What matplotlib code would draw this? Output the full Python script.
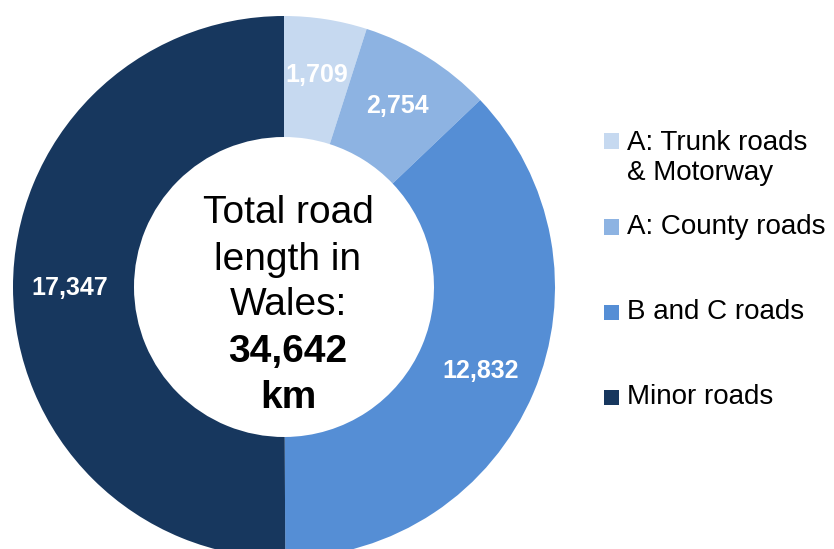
import matplotlib
matplotlib.use('Agg')
import matplotlib.pyplot as plt
from matplotlib.patches import Rectangle

# Road length in Wales by road class (km)
categories = ['A: Trunk roads\n& Motorway', 'A: County roads', 'B and C roads', 'Minor roads']
lengths = [1709, 2754, 12832, 17347]
colors = ['#C6D9F0', '#8DB3E2', '#558ED5', '#17375E']

plt.rcParams['font.family'] = ['Liberation Sans', 'DejaVu Sans']

W, H = 834, 549
fig = plt.figure(figsize=(W / 100, H / 100), dpi=100)

def fx(x):
    return x / W

def fy(y):
    return 1 - y / H

# donut geometry in pixels
cx, cy, r_out, r_in = 284, 287, 271, 150
ax = fig.add_axes([fx(cx - r_out), fy(cy + r_out), 2 * r_out / W, 2 * r_out / H])
wedges, texts, autotexts = ax.pie(
    lengths, colors=colors, startangle=90, counterclock=False, radius=1,
    wedgeprops=dict(width=(r_out - r_in) / r_out, linewidth=0),
    autopct=lambda p: f"{p * sum(lengths) / 100:,.0f}", pctdistance=0.79)
for t in autotexts:
    t.set_color('white')
    t.set_fontsize(18)
    t.set_fontweight('bold')
ax.set_xlim(-1, 1)
ax.set_ylim(-1, 1)
ax.axis('off')

# centre text
total = sum(lengths)
centre_lines = [('Total road', 'normal', 223), ('length in', 'normal', 270),
                ('Wales:', 'normal', 315), (f"{total:,}", 'bold', 362), ('km', 'bold', 408)]
for txt, weight, base in centre_lines:
    fig.text(fx(288), fy(base), txt, ha='center', va='baseline',
             fontsize=28, fontweight=weight, color='black')

# legend drawn by hand: square centre y, text centre y
square_y = [141, 227, 312, 397]
text_y = [158, 227, 312, 397]
sq = 15
for lab, col, ys, yt in zip(categories, colors, square_y, text_y):
    fig.patches.append(Rectangle((fx(604), fy(ys + sq / 2)), sq / W, sq / H,
                                 transform=fig.transFigure, facecolor=col,
                                 edgecolor='none', figure=fig))
    fig.text(fx(627), fy(yt), lab, ha='left', va='center',
             fontsize=20, color='black', linespacing=1.2)

fig.savefig('out.png', dpi=100)
